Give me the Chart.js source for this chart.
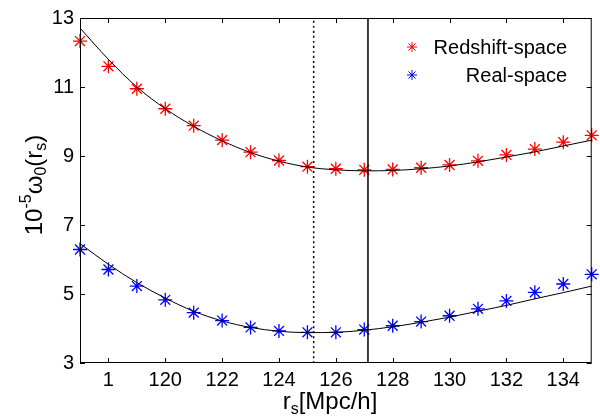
<!DOCTYPE html>
<html>
<head>
<meta charset="utf-8">
<script src="https://cdn.jsdelivr.net/npm/chart.js@4.4.1/dist/chart.umd.min.js"></script>
<style>
  html, body { margin: 0; padding: 0; background: #fff; }
  #wrap { width: 600px; height: 420px; position: relative; }
</style>
</head>
<body>
<div id="wrap"><canvas id="chart"></canvas></div>
<script>
// separation values r_s in Mpc/h
const rs = [117, 118, 119, 120, 121, 122, 123, 124, 125, 126, 127, 128, 129, 130, 131, 132, 133, 134, 135];

// measured points (units of 1e-5)
const redshiftPts = [12.33, 11.6, 10.95, 10.37, 9.88, 9.46, 9.11, 8.87, 8.69, 8.63, 8.6, 8.61, 8.66, 8.74, 8.86, 9.03, 9.2, 9.4, 9.6];
const realPts = [6.29, 5.71, 5.23, 4.83, 4.46, 4.23, 4.03, 3.93, 3.89, 3.89, 3.97, 4.08, 4.2, 4.37, 4.57, 4.8, 5.05, 5.29, 5.57];

// fitted curves
const redshiftFit = [12.71, 11.8, 11.0, 10.37, 9.86, 9.44, 9.1, 8.85, 8.68, 8.6, 8.57, 8.58, 8.63, 8.71, 8.83, 8.97, 9.12, 9.29, 9.46];
const realFit = [6.46, 5.86, 5.33, 4.88, 4.5, 4.22, 4.03, 3.92, 3.88, 3.89, 3.95, 4.05, 4.18, 4.33, 4.5, 4.67, 4.86, 5.04, 5.23];

// vertical marker lines
const dottedX = 125.22;
const solidX = 127.13;

const xTicks = [118, 120, 122, 124, 126, 128, 130, 132, 134];
const yTicks = [3, 5, 7, 9, 11, 13];
const legendLabels = ['Redshift-space', 'Real-space'];

const FONT = 'Arial, "Liberation Sans", sans-serif';

const pts = (xs, ys) => xs.map((x, i) => ({ x: x, y: ys[i] }));

// inward ticks + box frame, like matlab
const framePlugin = {
  id: 'frame',
  afterDraw(chart) {
    const ctx = chart.ctx;
    const a = chart.chartArea;
    const sx = chart.scales.x, sy = chart.scales.y;
    ctx.save();
    ctx.strokeStyle = '#000';
    ctx.lineWidth = 1;
    ctx.strokeRect(a.left + 0.5, a.top + 0.5, a.right - a.left - 1, a.bottom - a.top - 1);
    ctx.beginPath();
    xTicks.forEach(v => {
      const px = Math.round(sx.getPixelForValue(v)) + 0.5;
      ctx.moveTo(px, a.bottom); ctx.lineTo(px, a.bottom - 5);
      ctx.moveTo(px, a.top); ctx.lineTo(px, a.top + 5);
    });
    yTicks.forEach(v => {
      const py = Math.round(sy.getPixelForValue(v)) + 0.5;
      ctx.moveTo(a.left, py); ctx.lineTo(a.left + 5, py);
      ctx.moveTo(a.right, py); ctx.lineTo(a.right - 5, py);
    });
    ctx.stroke();

    // axis titles with sub/superscripts
    const big = 24, small = 16;
    const drawRuns = (runs, cx, cy, rot) => {
      let total = 0;
      runs.forEach(r => {
        ctx.font = (r.s ? small : big) + 'px ' + FONT;
        r.w = ctx.measureText(r.t).width;
        total += r.w;
      });
      ctx.save();
      ctx.translate(cx, cy);
      ctx.rotate(rot);
      ctx.fillStyle = '#000';
      ctx.textBaseline = 'alphabetic';
      ctx.textAlign = 'left';
      let x = -total / 2;
      runs.forEach(r => {
        ctx.font = (r.s ? small : big) + 'px ' + FONT;
        ctx.fillText(r.t, x, r.dy || 0);
        x += r.w;
      });
      ctx.restore();
    };
    drawRuns([
      { t: '10' }, { t: '-5', s: 1, dy: -11 }, { t: 'ω' }, { t: '0', s: 1, dy: 4 },
      { t: '(r' }, { t: 's', s: 1, dy: 4 }, { t: ')' }
    ], 42, 185, -Math.PI / 2);
    drawRuns([
      { t: 'r' }, { t: 's', s: 1, dy: 5 }, { t: '[Mpc/h]' }
    ], 330, 409, 0);

    // legend
    ctx.font = '20px ' + FONT;
    ctx.textBaseline = 'middle';
    ctx.textAlign = 'right';
    const colors = ['#ff0000', '#0000ff'];
    const rows = [47, 75];
    rows.forEach((y, i) => {
      ctx.fillStyle = '#000';
      ctx.fillText(legendLabels[i], 567, y + 1);
      ctx.strokeStyle = colors[i];
      Chart.helpers.drawPoint(ctx, { pointStyle: 'star', radius: 5, borderWidth: 1 }, 412, y);
    });
    ctx.restore();
  }
};

const starSet = (label, data, color) => ({
  label: label,
  data: data,
  showLine: false,
  clip: false,
  pointStyle: 'star',
  pointRadius: 7,
  borderColor: color,
  backgroundColor: color,
  borderWidth: 1.3
});

const lineSet = (data, dash, width) => ({
  data: data,
  showLine: true,
  pointRadius: 0,
  borderColor: '#000',
  borderWidth: width,
  borderDash: dash,
  cubicInterpolationMode: 'monotone',
  fill: false
});

new Chart(document.getElementById('chart'), {
  type: 'scatter',
  data: {
    datasets: [
      lineSet([{ x: dottedX, y: 3 }, { x: dottedX, y: 13 }], [2, 3], 1.5),
      lineSet([{ x: solidX, y: 3 }, { x: solidX, y: 13 }], [], 1.5),
      lineSet(pts(rs, redshiftFit), [], 1),
      lineSet(pts(rs, realFit), [], 1),
      starSet(legendLabels[0], pts(rs, redshiftPts), '#ff0000'),
      starSet(legendLabels[1], pts(rs, realPts), '#0000ff')
    ]
  },
  options: {
    responsive: true,
    maintainAspectRatio: false,
    animation: false,
    layout: { padding: { top: 13, right: 1, left: 0, bottom: 0 } },
    plugins: {
      legend: { display: false },
      tooltip: { enabled: false }
    },
    scales: {
      x: {
        type: 'linear',
        min: 117,
        max: 135,
        afterBuildTicks: s => { s.ticks = xTicks.map(v => ({ value: v })); },
        afterFit: s => { s.height = 57; },
        grid: { display: false, drawTicks: false },
        border: { display: false },
        ticks: {
          color: '#000',
          padding: 5,
          font: { family: FONT, size: 20 },
          callback: v => (v === 118 ? '1' : String(v))
        }
      },
      y: {
        min: 3,
        max: 13,
        afterBuildTicks: s => { s.ticks = yTicks.map(v => ({ value: v })); },
        afterFit: s => { s.width = 80; },
        grid: { display: false, drawTicks: false },
        border: { display: false },
        ticks: {
          color: '#000',
          padding: 6,
          font: { family: FONT, size: 20 }
        }
      }
    }
  },
  plugins: [framePlugin]
});
</script>
</body>
</html>
